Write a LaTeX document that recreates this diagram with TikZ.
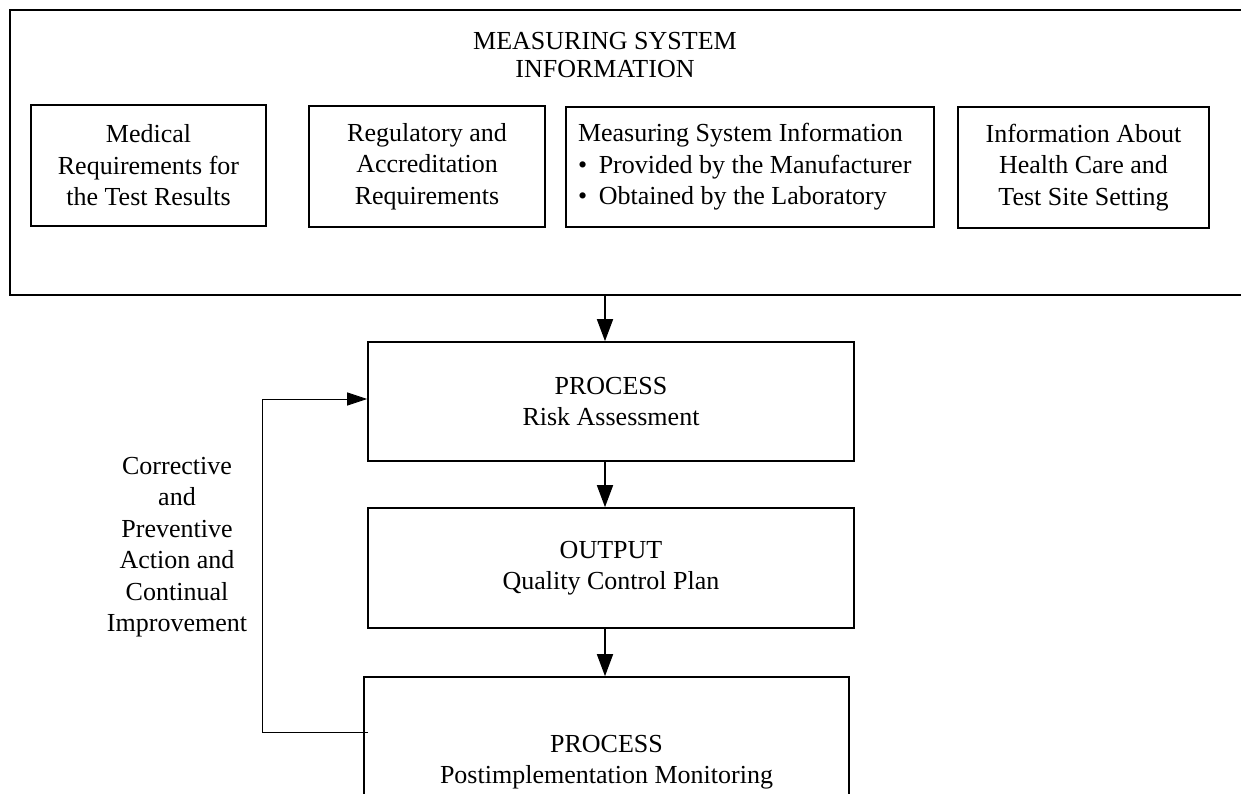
\documentclass[tikz,border=0pt]{standalone}
\usepackage{fontspec}
\setmainfont{Liberation Serif}
\usetikzlibrary{arrows.meta}
\newcommand{\bulletitem}{\textbullet\hspace{0.45em}}
\begin{document}
\begin{tikzpicture}[x=1pt,y=-1pt,
  box/.style={draw,line width=1.6pt,align=center,inner sep=0pt},
  txt/.style={font=\fontsize{26}{31.5}\selectfont},
  arr/.style={line width=1.6pt,-{Triangle[length=22pt,width=16pt]}},
  fbline/.style={line width=0.9pt,-{Triangle[length=20pt,width=13pt]}}]
\useasboundingbox (0,0) rectangle (1241,794);
\clip (0,0) rectangle (1241,794);

% information frame and its four source boxes
\node[draw,line width=1.6pt,inner sep=0pt,minimum width=1250pt,minimum height=285pt] (info) at (635,152.5) {};
\node[align=center,font=\fontsize{26}{27.5}\selectfont] (title) at (605,55) {MEASURING SYSTEM\\INFORMATION};

\node[box,txt,minimum width=235pt,minimum height=121pt] (med) at (148.5,165.5)
  {Medical\\Requirements for\\the Test Results};
\node[box,txt,minimum width=236pt,minimum height=121pt] (reg) at (427,166.5)
  {Regulatory and\\Accreditation\\Requirements};
\node[box,txt,align=flush left,text width=344pt,minimum width=368pt,minimum height=120pt] (msi) at (750,167)
  {Measuring System Information\\\bulletitem Provided by the Manufacturer\\\bulletitem Obtained by the Laboratory};
\node[box,txt,minimum width=251pt,minimum height=121pt] (hc) at (1083.5,167.5)
  {Information About\\Health Care and\\Test Site Setting};

% main process chain
\node[box,txt,minimum width=486pt,minimum height=119pt] (risk) at (611,401.5)
  {PROCESS\\Risk Assessment};
\node[box,txt,minimum width=486pt,minimum height=120pt] (qcp) at (611,568)
  {OUTPUT\\Quality Control Plan};
\node[box,txt,minimum width=485pt,minimum height=170pt] (mon) at (606.5,762)
  {PROCESS\\Postimplementation Monitoring};

\coordinate (ax) at (605,0);
\draw[arr] (info.south -| ax) -- (risk.north -| ax);
\draw[arr] (risk.south -| ax) -- (qcp.north -| ax);
\draw[arr] (qcp.south -| ax) -- (mon.north -| ax);

% feedback loop
\coordinate (fbout) at (368,732);
\coordinate (fbx) at (262,0);
\draw[fbline] (fbout) -- (fbout -| fbx) -- ([yshift=2.5pt]fbx |- risk.west) -- ([yshift=2.5pt]risk.west);
\node[align=center,font=\fontsize{26}{31.5}\selectfont] (fblabel) at (177,547)
  {Corrective\\and\\Preventive\\Action and\\Continual\\Improvement};
\end{tikzpicture}
\end{document}
